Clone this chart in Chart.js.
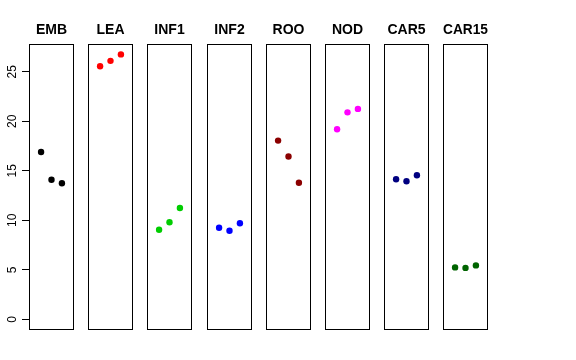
<!DOCTYPE html>
<html>
<head>
<meta charset="utf-8">
<script src="https://cdn.jsdelivr.net/npm/chart.js@4.4.0/dist/chart.umd.min.js"></script>
<style>
  body { margin: 0; background: #fff; }
  #wrap { position: relative; width: 576px; height: 360px; overflow: hidden; }
  #wrap canvas { position: absolute; }
</style>
</head>
<body>
<div id="wrap"></div>
<script>
// data
var groups = ["EMB", "LEA", "INF1", "INF2", "ROO", "NOD", "CAR5", "CAR15"];
var xPos = [1, 2, 3];
var embVals = [16.9, 14.1, 13.75];
var leaVals = [25.55, 26.1, 26.75];
var inf1Vals = [9.05, 9.8, 11.25];
var inf2Vals = [9.25, 8.95, 9.7];
var rooVals = [18.05, 16.45, 13.8];
var nodVals = [19.2, 20.9, 21.25];
var car5Vals = [14.15, 13.95, 14.55];
var car15Vals = [5.25, 5.2, 5.45];
var yTicks = [0, 5, 10, 15, 20, 25];

var allVals = [embVals, leaVals, inf1Vals, inf2Vals, rooVals, nodVals, car5Vals, car15Vals];
var colors = ['#000000', '#ff0000', '#00cd00', '#0000ff', '#8b0000', '#ff00ff', '#000080', '#006400'];

// box round the plot area
var boxPlugin = {
    id: 'box',
    afterDraw: function (chart) {
        var a = chart.chartArea;
        var ctx = chart.ctx;
        ctx.save();
        ctx.strokeStyle = '#000';
        ctx.lineWidth = 1;
        ctx.strokeRect(Math.round(a.left) + 0.5, Math.round(a.top) + 0.5,
            Math.round(a.right - a.left) - 1, Math.round(a.bottom - a.top) - 1);
        ctx.restore();
    }
};

var wrap = document.getElementById('wrap');
var panelW = 45;
var step = 59.2;
var firstLeft = 29;
var side = 8;

groups.forEach(function (name, i) {
    var first = i === 0;
    var left = Math.round(firstLeft + i * step);
    var cv = document.createElement('canvas');
    var cLeft = first ? 0 : left - side;
    var cWidth = first ? left + panelW + side : panelW + side * 2;
    cv.style.left = cLeft + 'px';
    cv.style.top = '21px';
    cv.style.width = cWidth + 'px';
    cv.style.height = '320px';
    cv.width = cWidth;
    cv.height = 320;
    wrap.appendChild(cv);

    var pts = xPos.map(function (x, k) { return {x: x, y: allVals[i][k]}; });

    var yScale = {
        display: first,
        min: -1.07,
        max: 27.82,
        border: {display: false},
        grid: {
            drawOnChartArea: false,
            tickLength: 7,
            color: '#000'
        },
        ticks: {
            minRotation: 90,
            maxRotation: 90,
            crossAlign: 'center',
            padding: 3,
            color: '#000',
            font: {family: 'Liberation Sans', size: 12}
        }
    };
    if (first) {
        yScale.afterFit = function (scale) { scale.width = left; };
        yScale.afterBuildTicks = function (scale) {
            scale.ticks = yTicks.map(function (v) { return {value: v}; });
        };
    }

    new Chart(cv.getContext('2d'), {
        type: 'scatter',
        data: {
            datasets: [{
                data: pts,
                backgroundColor: colors[i],
                borderColor: colors[i],
                pointRadius: 3.2,
                pointHoverRadius: 3.2,
                borderWidth: 0
            }]
        },
        options: {
            responsive: false,
            animation: false,
            events: [],
            layout: {
                padding: {left: first ? 0 : side, right: side, top: 0, bottom: 11}
            },
            scales: {
                x: {
                    display: false,
                    min: -0.16,
                    max: 4.16
                },
                y: yScale
            },
            plugins: {
                legend: {display: false},
                tooltip: {enabled: false},
                title: {
                    display: true,
                    fullSize: !first,
                    text: name,
                    color: '#000',
                    font: {family: 'Liberation Sans', size: 14, weight: 'bold'},
                    padding: {top: 1, bottom: 5}
                }
            }
        },
        plugins: [boxPlugin]
    });
});
</script>
</body>
</html>
